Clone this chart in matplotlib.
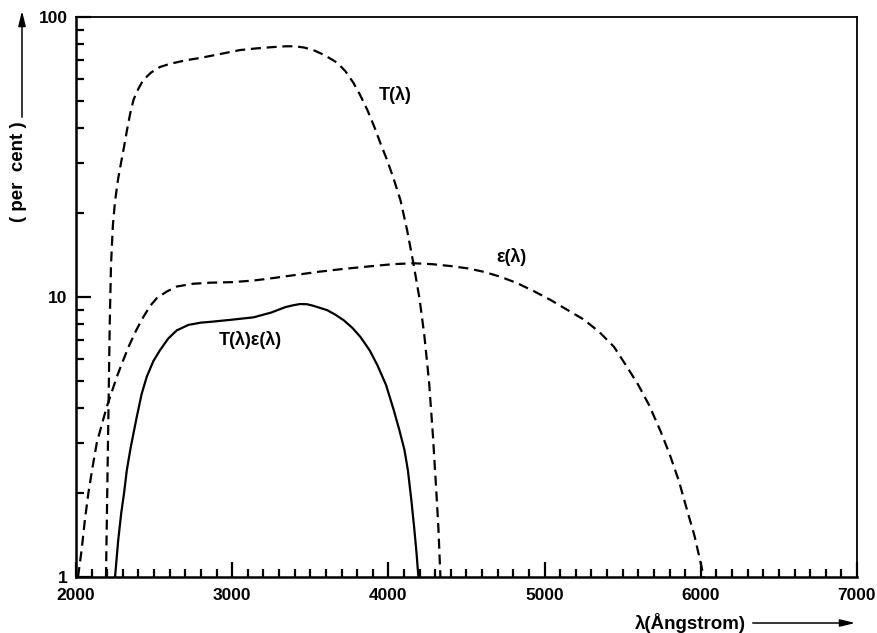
import numpy as np
import matplotlib
matplotlib.use("Agg")
import matplotlib.pyplot as plt
from matplotlib.ticker import FixedLocator, NullFormatter

plt.rcParams['font.family'] = ['Liberation Sans', 'DejaVu Sans']
plt.rcParams['font.weight'] = 'bold'

# T(lambda) - transmission (per cent)
t_wave = [2192, 2200, 2208, 2216, 2224, 2236, 2250, 2270, 2290, 2310, 2327, 2348, 2369,
          2400, 2430, 2480, 2538, 2600, 2700, 2800, 2925, 3051, 3150, 3250, 3340, 3400,
          3460, 3519, 3570, 3620, 3673, 3725, 3776, 3820, 3865, 3910, 3949, 3990, 4032,
          4077, 4120, 4160, 4200, 4230, 4260, 4285, 4305, 4320, 4333]
t_val = [1.0, 2.0, 4.0, 8.0, 13.0, 18.0, 22.0, 26.5, 30.5, 35.0, 39.6, 45.5, 50.8,
         55.5, 59.5, 63.3, 66.3, 68.0, 70.0, 71.5, 73.8, 76.2, 77.2, 78.0, 78.6, 78.6,
         77.8, 76.2, 74.0, 71.5, 68.6, 64.0, 58.2, 52.5, 46.6, 40.5, 35.4, 31.0, 26.6,
         22.2, 17.3, 13.2, 9.8, 7.3, 5.0, 3.2, 2.1, 1.5, 1.0]

# epsilon(lambda) - efficiency (per cent)
e_wave = [2013, 2036, 2057, 2079, 2105, 2133, 2165, 2197, 2230, 2261, 2300, 2336, 2385,
          2432, 2475, 2517, 2580, 2645, 2750, 2859, 3000, 3137, 3270, 3393, 3550, 3714,
          3900, 4030, 4160, 4280, 4397, 4510, 4611, 4720, 4825, 4930, 5038, 5145, 5252,
          5350, 5444, 5530, 5600, 5670, 5744, 5800, 5860, 5910, 5960, 5995, 6019]
e_val = [1.0, 1.25, 1.6, 1.99, 2.45, 3.01, 3.5, 4.05, 4.6, 5.18, 5.9, 6.63, 7.6,
         8.5, 9.3, 9.9, 10.45, 10.9, 11.15, 11.25, 11.3, 11.45, 11.7, 11.96, 12.3, 12.6,
         12.9, 13.1, 13.2, 13.1, 12.9, 12.65, 12.3, 11.8, 11.2, 10.5, 9.76, 9.0, 8.3,
         7.5, 6.64, 5.6, 4.85, 4.1, 3.3, 2.75, 2.2, 1.75, 1.4, 1.15, 1.0]

# T(lambda)*epsilon(lambda)
te_wave = [2250, 2270, 2290, 2308, 2325, 2350, 2389, 2420, 2453, 2495, 2538, 2590, 2645,
           2720, 2800, 2859, 3000, 3137, 3250, 3340, 3393, 3436, 3480, 3520, 3560, 3607,
           3660, 3715, 3770, 3821, 3880, 3930, 3985, 4034, 4070, 4103, 4125, 4147, 4165,
           4180, 4192]
te_val = [1.0, 1.35, 1.7, 2.0, 2.4, 2.9, 3.73, 4.5, 5.19, 5.9, 6.46, 7.1, 7.6,
          7.95, 8.1, 8.15, 8.3, 8.46, 8.8, 9.2, 9.35, 9.44, 9.42, 9.3, 9.15, 8.98,
          8.65, 8.25, 7.75, 7.2, 6.45, 5.7, 4.85, 3.95, 3.35, 2.84, 2.4, 1.88, 1.5,
          1.22, 1.0]

fig = plt.figure(figsize=(8.78, 6.33), dpi=100)
ax = fig.add_axes([76 / 878, 56 / 633, 781 / 878, 560 / 633])

dash = (4.5, 2.6)
ax.plot(t_wave, t_val, color='black', lw=1.6, linestyle=(0, dash))
ax.plot(e_wave, e_val, color='black', lw=1.6, linestyle=(0, dash))
ax.plot(te_wave, te_val, color='black', lw=1.6)

ax.set_yscale('log')
ax.set_xlim(2000, 7000)
ax.set_ylim(1, 100)

ax.xaxis.set_major_locator(FixedLocator(np.arange(2000, 7001, 1000)))
ax.xaxis.set_minor_locator(FixedLocator(np.arange(2000, 7001, 100)))
ax.yaxis.set_major_locator(FixedLocator([1, 10, 100]))
ax.yaxis.set_minor_locator(FixedLocator([2, 3, 4, 5, 6, 7, 8, 9, 20, 30, 40, 50, 60, 70, 80, 90]))
ax.yaxis.set_minor_formatter(NullFormatter())
ax.set_yticklabels(['1', '10', '100'])
ax.set_xticklabels(['2000', '3000', '4000', '5000', '6000', '7000'])

ax.tick_params(which='both', direction='in', top=False, right=False, width=1.6,
               labelsize=12.5)
ax.tick_params(which='major', length=11)
ax.tick_params(which='minor', length=6)
ax.tick_params(axis='x', pad=8)
ax.tick_params(axis='y', pad=6)

for s in ['left', 'bottom']:
    ax.spines[s].set_linewidth(1.8)
for s in ['top', 'right']:
    ax.spines[s].set_linewidth(1.3)

# curve labels
ax.text(4045, 52.7, 'T(λ)', fontsize=13, ha='center', va='center')
ax.text(4788, 13.9, 'ε(λ)', fontsize=13, ha='center', va='center')
ax.text(3115, 7.05, 'T(λ)ε(λ)', fontsize=13, ha='center', va='center')

# axis labels with arrows
fig.text(635 / 878, 1 - 623 / 633, 'λ(Ångstrom)', fontsize=13.5, ha='left', va='center')
ax.annotate('', xy=(858, 633 - 623), xytext=(750, 633 - 623),
            xycoords='figure pixels', textcoords='figure pixels',
            arrowprops=dict(arrowstyle='-|>,head_length=0.9,head_width=0.22',
                            color='black', lw=1.1))

fig.text(19 / 878, 1 - 172 / 633, '( per  cent )', fontsize=13.5, rotation=90,
         ha='center', va='center')
ax.annotate('', xy=(22, 633 - 8), xytext=(22, 633 - 120),
            xycoords='figure pixels', textcoords='figure pixels',
            arrowprops=dict(arrowstyle='-|>,head_length=0.9,head_width=0.22',
                            color='black', lw=1.1))

fig.savefig('out.png', dpi=100)
